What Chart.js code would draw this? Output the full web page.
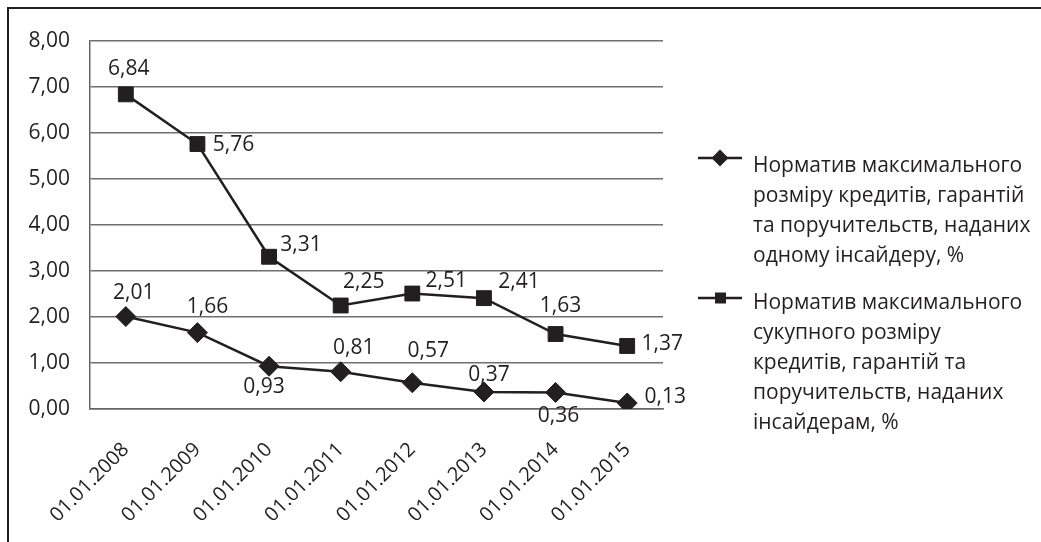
<!DOCTYPE html>
<html>
<head>
<meta charset="utf-8">
<script src="https://cdn.jsdelivr.net/npm/chart.js@4.4.1/dist/chart.umd.min.js"></script>
<style>
html, body { margin: 0; padding: 0; background: #fff; }
#wrap { position: relative; width: 1041px; height: 542px; overflow: hidden; }
#frame { position: absolute; left: 7px; top: 7px; width: 1100px; height: 600px;
         border-top: 2px solid #231f20; border-left: 2px solid #231f20; }
canvas { position: absolute; left: 0; top: 0; }
</style>
</head>
<body>
<div id="wrap">
    <div id="frame"></div>
    <canvas id="chart" width="1041" height="542"></canvas>
</div>

<script>
// ------------------------------------------------------
// Données
// ------------------------------------------------------

const dates = ["01.01.2008", "01.01.2009", "01.01.2010", "01.01.2011",
               "01.01.2012", "01.01.2013", "01.01.2014", "01.01.2015"];

const oneInsider = [2.01, 1.66, 0.93, 0.81, 0.57, 0.37, 0.36, 0.13];
const allInsiders = [6.84, 5.76, 3.31, 2.25, 2.51, 2.41, 1.63, 1.37];

const legendOne = ["Норматив максимального", "розміру кредитів, гарантій",
                   "та поручительств, наданих", "одному інсайдеру, %"];
const legendAll = ["Норматив максимального", "сукупного розміру",
                   "кредитів, гарантій та", "поручительств, наданих",
                   "інсайдерам, %"];

// décalage des étiquettes par rapport au point (style)
const offsetOne = [[8, -24], [10, -26], [-5, 21], [13, -24],
                   [16, -32], [5, -17], [3, 24], [38, -6]];
const offsetAll = [[3, -25], [36, 1], [32, -12], [23, -23],
                   [34, -13], [35, -16], [5, -28], [35, -2]];

const INK = "#231f20";
const FONT = "'Open Sans', sans-serif";

function fmt(v) {
    return v.toFixed(2).replace(".", ",");
}

// ------------------------------------------------------
// Étiquettes + légende
// ------------------------------------------------------

const labelsPlugin = {

    id: "valueLabels",

    afterDatasetsDraw(chart) {

        const ctx = chart.ctx;
        const offsets = [offsetOne, offsetAll];

        ctx.save();
        ctx.fillStyle = INK;
        ctx.font = "21px " + FONT;
        ctx.textAlign = "center";
        ctx.textBaseline = "middle";

        chart.data.datasets.forEach((ds, i) => {

            chart.getDatasetMeta(i).data.forEach((pt, j) => {

                const o = offsets[i][j];

                ctx.fillText(fmt(ds.data[j]), pt.x + o[0], pt.y + o[1]);

            });

        });

        ctx.restore();

    },

    afterDraw(chart) {

        const ctx = chart.ctx;

        const entries = [
            { lines: legendOne, lineY: 158, textY: 172, marker: "diamond" },
            { lines: legendAll, lineY: 298, textY: 309, marker: "square" }
        ];

        ctx.save();

        entries.forEach(e => {

            ctx.strokeStyle = INK;
            ctx.lineWidth = 2.5;
            ctx.beginPath();
            ctx.moveTo(698, e.lineY);
            ctx.lineTo(742, e.lineY);
            ctx.stroke();

            ctx.fillStyle = INK;
            ctx.beginPath();

            if (e.marker === "diamond") {
                ctx.moveTo(720, e.lineY - 8.5);
                ctx.lineTo(728.5, e.lineY);
                ctx.lineTo(720, e.lineY + 8.5);
                ctx.lineTo(711.5, e.lineY);
                ctx.closePath();
            } else {
                ctx.rect(715, e.lineY - 5.5, 11, 11);
            }

            ctx.fill();

            ctx.font = "21px " + FONT;
            ctx.textAlign = "left";
            ctx.textBaseline = "alphabetic";

            e.lines.forEach((t, k) => {
                ctx.fillText(t, 753, e.textY + k * 30);
            });

        });

        ctx.restore();

    }

};

// ------------------------------------------------------
// Graphique
// ------------------------------------------------------

new Chart(document.getElementById("chart"), {

    type: "line",

    data: {

        labels: dates,

        datasets: [

            {
                label: legendOne.join(" "),
                data: oneInsider,
                borderColor: INK,
                backgroundColor: INK,
                borderWidth: 2.5,
                pointStyle: "rectRot",
                pointRadius: 10,
                pointBorderWidth: 1,
                tension: 0
            },

            {
                label: legendAll.join(" "),
                data: allInsiders,
                borderColor: INK,
                backgroundColor: INK,
                borderWidth: 2.5,
                pointStyle: "rect",
                pointRadius: 10.5,
                pointBorderWidth: 1,
                tension: 0
            }

        ]

    },

    options: {

        responsive: false,
        animation: false,

        layout: {
            padding: { top: 41, right: 378, left: 0, bottom: 0 }
        },

        plugins: {
            legend: { display: false },
            tooltip: { enabled: false }
        },

        scales: {

            x: {
                offset: true,
                grid: { display: false },
                border: { display: true, color: "#666666", width: 1.5 },
                ticks: {
                    color: INK,
                    font: { family: FONT, size: 20 },
                    maxRotation: 45,
                    minRotation: 45,
                    autoSkip: false,
                    padding: 21
                },
                afterFit(scale) { scale.height = 133; }
            },

            y: {
                min: 0,
                max: 8,
                grid: { color: "#6f6f6f", lineWidth: 1.5, drawTicks: false },
                border: { display: true, color: "#666666", width: 1.5 },
                ticks: {
                    stepSize: 1,
                    color: INK,
                    font: { family: FONT, size: 21 },
                    padding: 20,
                    callback: v => fmt(v)
                },
                afterFit(scale) { scale.width = 90; }
            }

        }

    },

    plugins: [labelsPlugin]

});
</script>
</body>
</html>
